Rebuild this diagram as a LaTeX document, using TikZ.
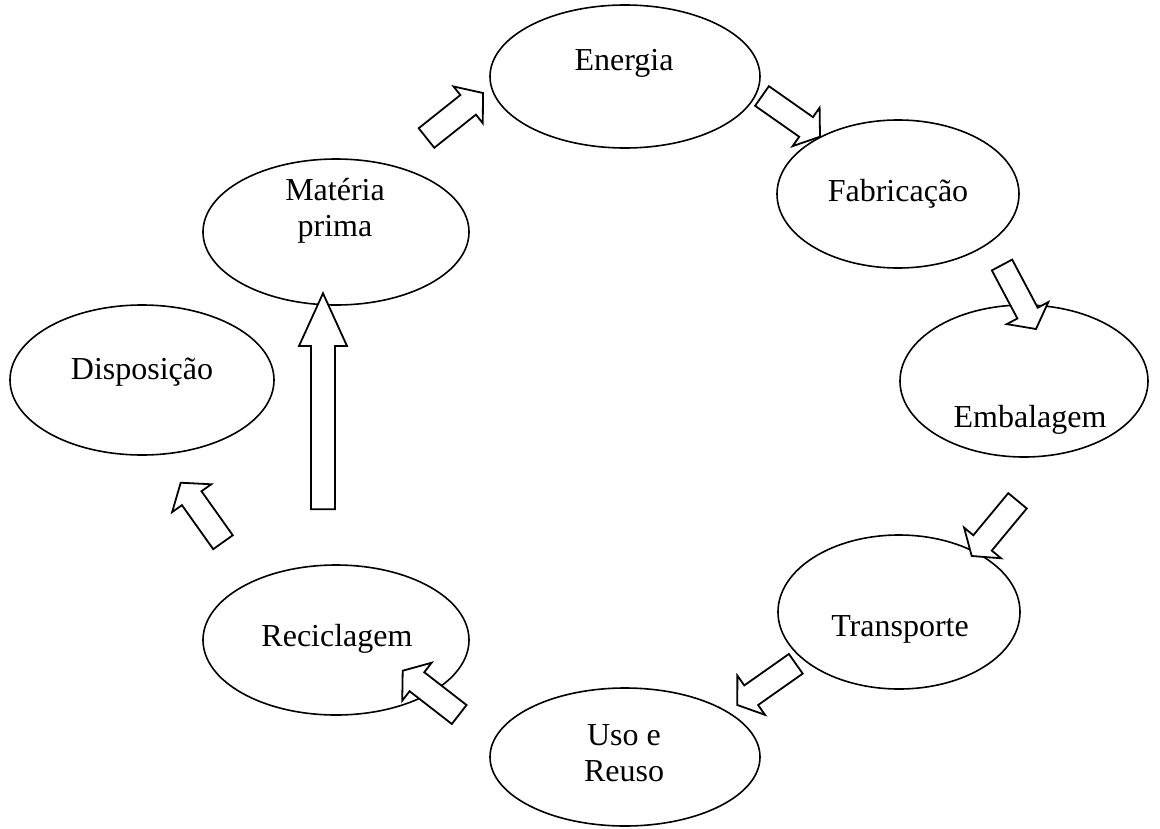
\documentclass[tikz,border=0pt]{standalone}
\usepackage{fontspec}
\setmainfont{Liberation Serif}
\usetikzlibrary{shapes.geometric,calc}
\tikzset{
  ell/.style={draw, ellipse, line width=1.6pt, inner sep=0pt},
  lbl/.style={anchor=base, inner sep=0pt, font=\fontsize{32}{36}\selectfont, align=center},
  blk/.style={draw, line width=1.8pt, line join=miter, fill=white}
}
\newcommand\blockarr[5]{%
  \coordinate (ab) at ($(#2)!#5!(#1)$);
  \draw[blk] ($(#1)!#3!90:(#2)$) -- ($(ab)!#3!90:(#2)$) -- ($(ab)!#4!90:(#2)$) -- (#2)
    -- ($(ab)!#4!-90:(#2)$) -- ($(ab)!#3!-90:(#2)$) -- ($(#1)!#3!-90:(#2)$) -- cycle;}
\begin{document}
\begin{tikzpicture}[x=1pt,y=-1pt]
\useasboundingbox (0,0) rectangle (1160,828);
% ellipses
\node[ell, minimum width=270pt, minimum height=143pt] (energia) at (625,76.5) {};
\node[ell, minimum width=242pt, minimum height=148pt] (fabricacao) at (898,194) {};
\node[ell, minimum width=248pt, minimum height=152pt] (embalagem) at (1024,381) {};
\node[ell, minimum width=242pt, minimum height=154pt] (transporte) at (899,612) {};
\node[ell, minimum width=270pt, minimum height=138pt] (uso) at (625,757) {};
\node[ell, minimum width=266pt, minimum height=150pt] (reciclagem) at (336,640) {};
\node[ell, minimum width=264pt, minimum height=150pt] (disposicao) at (142,380) {};
\node[ell, minimum width=266pt, minimum height=146pt] (materia) at (336,232) {};
% labels
\node[lbl] (tEnergia) at (624,70) {Energia};
\node[lbl] (tFabricacao) at (898,201) {Fabricação};
\node[lbl] (tEmbalagem) at (1030,427) {Embalagem};
\node[lbl] (tTransporte) at (900,636) {Transporte};
\node[lbl] (tUso) at (624,781) {Uso e\\Reuso};
\node[lbl] (tReciclagem) at (337,646) {Reciclagem};
\node[lbl] (tDisposicao) at (142,379) {Disposição};
\node[lbl] (tMateria) at (335,236) {Matéria\\prima};
% arrow ends
\coordinate (a1s) at (426.5,138);  \coordinate (a1e) at (483,93);
\coordinate (a2s) at (762,96);     \coordinate (a2e) at (820,136.7);
\coordinate (a3s) at (1002,265);   \coordinate (a3e) at (1036,329);
\coordinate (a4s) at (1017.5,500.8); \coordinate (a4e) at (971.7,556);
\coordinate (a5s) at (795.8,663.8); \coordinate (a5e) at (737.3,705);
\coordinate (a6s) at (459.2,714.5); \coordinate (a6e) at (402.7,670.7);
\coordinate (a7s) at (223,542.2);  \coordinate (a7e) at (180.7,482.7);
\coordinate (a8s) at (323,509.3);  \coordinate (a8e) at (323,293.3);
\blockarr{a1s}{a1e}{12.5pt}{23.5pt}{19pt}
\blockarr{a2s}{a2e}{12pt}{23.5pt}{17pt}
\blockarr{a3s}{a3e}{11.5pt}{23.5pt}{18pt}
\blockarr{a4s}{a4e}{12pt}{24pt}{17pt}
\blockarr{a5s}{a5e}{12pt}{24pt}{17pt}
\blockarr{a6s}{a6e}{12pt}{24pt}{18pt}
\blockarr{a7s}{a7e}{12pt}{24pt}{19pt}
\blockarr{a8s}{a8e}{12pt}{24pt}{52.7pt}
\end{tikzpicture}
\end{document}
